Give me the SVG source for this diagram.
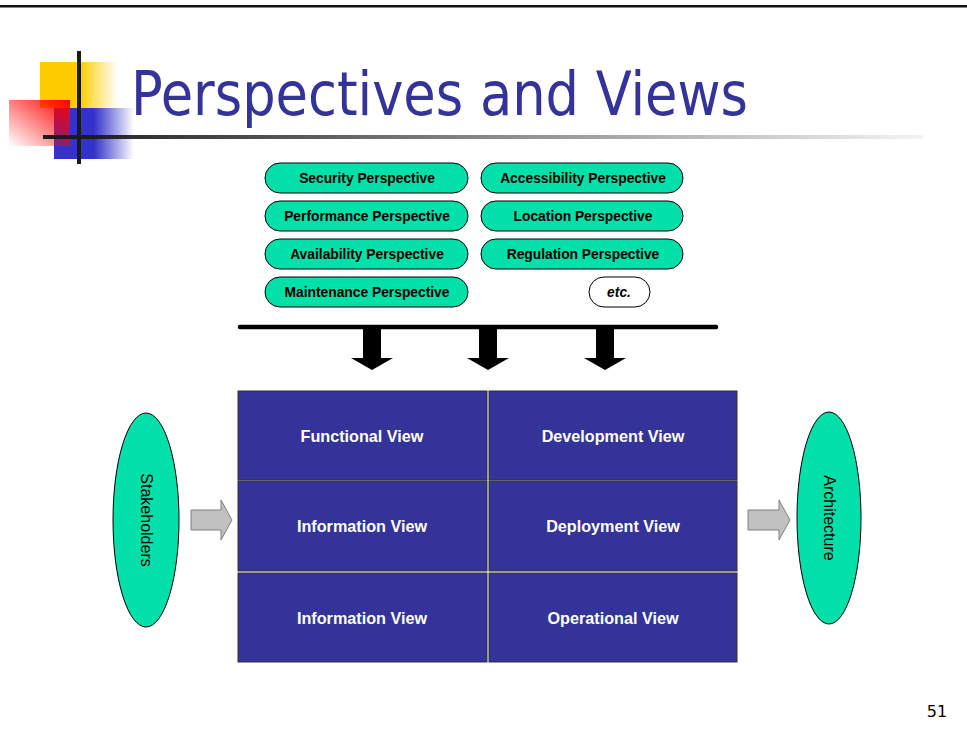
<svg xmlns="http://www.w3.org/2000/svg" width="967" height="736" viewBox="0 0 967 736">
<defs>
<linearGradient id="gy" x1="0" y1="0" x2="1" y2="0"><stop offset="0.5" stop-color="#FFCC00"/><stop offset="1" stop-color="#FFCC00" stop-opacity="0"/></linearGradient>
<linearGradient id="gb" x1="0" y1="0" x2="1" y2="0"><stop offset="0.5" stop-color="#3333CC"/><stop offset="1" stop-color="#3333CC" stop-opacity="0"/></linearGradient>
<linearGradient id="gr" x1="1" y1="0" x2="0" y2="1"><stop offset="0" stop-color="#FF0000"/><stop offset="1" stop-color="#FF0000" stop-opacity="0"/></linearGradient>
<linearGradient id="gl" x1="0" y1="0" x2="1" y2="0"><stop offset="0" stop-color="#1a1a1a"/><stop offset="1" stop-color="#1a1a1a" stop-opacity="0.05"/></linearGradient>
</defs>
<style>
.pill{fill:#00E0A8;stroke:#000;stroke-width:1}
.pt{font-family:"Liberation Sans",Arial,sans-serif;font-weight:bold;font-size:13.8px;fill:#000;text-anchor:middle}
.cell{fill:#333399;stroke:#333;stroke-width:1}
.ct{font-family:"Liberation Sans",Arial,sans-serif;font-weight:bold;font-size:16.2px;fill:#fff;text-anchor:middle}
.ell{fill:#00E0A8;stroke:#000;stroke-width:1}
.et{font-family:"Liberation Sans",Arial,sans-serif;font-size:16px;fill:#000;text-anchor:middle}
.ga{fill:#C0C0C0;stroke:#808080;stroke-width:1}
.ba{fill:#000}
</style>
<rect width="967" height="736" fill="#fff"/>
<rect x="0" y="5" width="967" height="2.5" fill="#111"/>
<g id="logo">
<rect x="40" y="62" width="78" height="46" fill="url(#gy)"/>
<rect x="54" y="108" width="80" height="51" fill="url(#gb)"/>
<rect x="9" y="100" width="61" height="46" fill="url(#gr)"/>
<rect x="77" y="51" width="4" height="113" fill="#1a1a1a"/>
<rect x="43" y="135" width="880" height="4" fill="url(#gl)"/>
</g>
<text x="131" y="115" font-family="'DejaVu Sans Condensed','DejaVu Sans',sans-serif" font-size="60" fill="#333399" textLength="617" lengthAdjust="spacingAndGlyphs">Perspectives and Views</text>
<g id="perspectives">
<g id="p-security"><rect class="pill" x="265" y="163" width="203" height="30" rx="15"/><text class="pt" x="367" y="183">Security Perspective</text></g>
<g id="p-accessibility"><rect class="pill" x="481" y="163" width="202" height="30" rx="15"/><text class="pt" x="583" y="183">Accessibility Perspective</text></g>
<g id="p-performance"><rect class="pill" x="265" y="201" width="203" height="30" rx="15"/><text class="pt" x="367" y="221">Performance Perspective</text></g>
<g id="p-location"><rect class="pill" x="481" y="201" width="202" height="30" rx="15"/><text class="pt" x="583" y="221">Location Perspective</text></g>
<g id="p-availability"><rect class="pill" x="265" y="239" width="203" height="30" rx="15"/><text class="pt" x="367" y="259">Availability Perspective</text></g>
<g id="p-regulation"><rect class="pill" x="481" y="239" width="202" height="30" rx="15"/><text class="pt" x="583" y="259">Regulation Perspective</text></g>
<g id="p-maintenance"><rect class="pill" x="265" y="277" width="203" height="30" rx="15"/><text class="pt" x="367" y="297">Maintenance Perspective</text></g>
<g id="p-etc"><rect class="pill" x="589" y="277" width="61" height="30" rx="15" style="fill:#fff"/><text class="pt" x="619" y="297" font-style="italic">etc.</text></g>
</g>
<g id="connectors">
<line x1="240" y1="327" x2="716" y2="327" stroke="#000" stroke-width="4.5" stroke-linecap="round"/>
<polygon class="ba" points="363,329 381,329 381,358 393,358 372,370 351,358 363,358"/>
<polygon class="ba" points="479,329 497,329 497,358 509,358 488,370 467,358 479,358"/>
<polygon class="ba" points="596,329 614,329 614,358 626,358 605,370 584,358 596,358"/>
<polygon class="ga" points="191,510 221,510 221,500 232,520 221,540 221,530 191,530"/>
<polygon class="ga" points="748,510 779,510 779,500 790,520 779,540 779,530 748,530"/>
</g>
<g id="views">
<g id="v-functional"><rect class="cell" x="238" y="391" width="249" height="89"/><text class="ct" x="362" y="442">Functional View</text></g>
<g id="v-development"><rect class="cell" x="489" y="391" width="248" height="89"/><text class="ct" x="613" y="442">Development View</text></g>
<g id="v-information1"><rect class="cell" x="238" y="481" width="249" height="90"/><text class="ct" x="362" y="532">Information View</text></g>
<g id="v-deployment"><rect class="cell" x="489" y="481" width="248" height="90"/><text class="ct" x="613" y="532">Deployment View</text></g>
<g id="v-information2"><rect class="cell" x="238" y="573" width="249" height="89"/><text class="ct" x="362" y="624">Information View</text></g>
<g id="v-operational"><rect class="cell" x="489" y="573" width="248" height="89"/><text class="ct" x="613" y="624">Operational View</text></g>
</g>
<g id="stakeholders"><ellipse class="ell" cx="146" cy="520" rx="33" ry="107"/><text class="et" transform="translate(146,520) rotate(90)" y="5.5">Stakeholders</text></g>
<g id="architecture"><ellipse class="ell" cx="829" cy="518" rx="32" ry="106"/><text class="et" transform="translate(829,518) rotate(90)" y="5.5">Architecture</text></g>
<text x="937" y="717" font-family="'DejaVu Sans',sans-serif" font-size="16" fill="#000" text-anchor="middle">51</text>
</svg>
